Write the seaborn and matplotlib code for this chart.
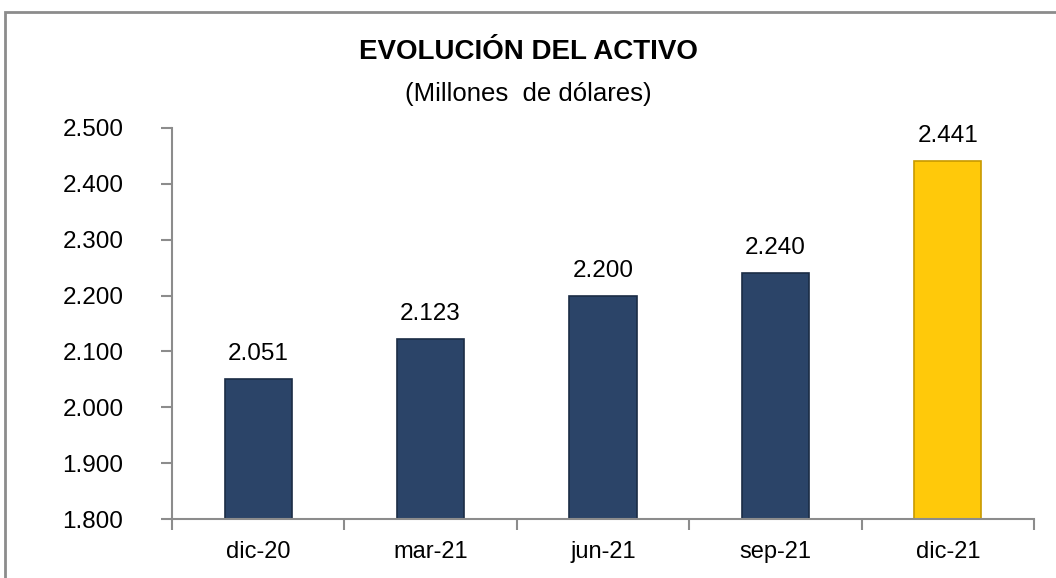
import matplotlib
matplotlib.use("Agg")
import matplotlib.pyplot as plt
import seaborn as sns
import pandas as pd
from matplotlib.patches import Rectangle
from matplotlib.ticker import FixedLocator, FuncFormatter

# Datos
periodos = ["dic-20", "mar-21", "jun-21", "sep-21", "dic-21"]
activo = [2051, 2123, 2200, 2240, 2441]
colores = ["#2B4468", "#2B4468", "#2B4468", "#2B4468", "#FFC90A"]
bordes = ["#1B2C45", "#1B2C45", "#1B2C45", "#1B2C45", "#C89A00"]

def miles(v, pos=None):
    return f"{int(v):,}".replace(",", ".")

sns.set_style("white")
plt.rcParams["font.family"] = ["Liberation Sans", "DejaVu Sans"]

df = pd.DataFrame({"periodo": periodos, "activo": activo})

fig = plt.figure(figsize=(10.56, 5.78), dpi=100)
ax = fig.add_axes([172 / 1056, 1 - 519 / 578, (1034 - 172) / 1056, (519 - 128) / 578])

sns.barplot(data=df, x="periodo", y="activo", hue="periodo", palette=colores,
            width=0.39, legend=False, ax=ax, saturation=1)

for barra, borde in zip(ax.patches, bordes):
    barra.set_edgecolor(borde)
    barra.set_linewidth(1.2)

ax.set_ylim(1800, 2500)
ax.set_xlim(-0.5, len(periodos) - 0.5)
ax.set_yticks(range(1800, 2501, 100))
ax.yaxis.set_major_formatter(FuncFormatter(miles))
ax.set_xlabel("")
ax.set_ylabel("")

# ticks del eje x en los limites de categoria
ax.xaxis.set_minor_locator(FixedLocator([i - 0.5 for i in range(len(periodos) + 1)]))
ax.tick_params(axis="x", which="major", bottom=True, length=0, pad=16, labelsize=17,
               labelcolor="black")
ax.tick_params(axis="x", which="minor", bottom=True, length=8, width=1.5, color="#8C8C8C",
               direction="out")
ax.tick_params(axis="y", which="major", left=True, length=8, width=1.5, color="#8C8C8C",
               direction="out", pad=27, labelsize=17.5, labelcolor="black")

for lado in ["top", "right"]:
    ax.spines[lado].set_visible(False)
for lado in ["left", "bottom"]:
    ax.spines[lado].set_color("#8C8C8C")
    ax.spines[lado].set_linewidth(1.5)

# etiquetas de datos
for i, v in enumerate(activo):
    ax.annotate(miles(v), (i, v), xytext=(0, 10), textcoords="offset points",
                ha="center", va="bottom", fontsize=17.5, color="black")

# titulos
fig.text(0.5, 1 - 52 / 578, "EVOLUCIÓN DEL ACTIVO", ha="center", va="center",
         fontsize=20, fontweight="bold", color="black")
fig.text(0.5, 1 - 94 / 578, "(Millones  de dólares)", ha="center", va="center",
         fontsize=18.5, color="black")

# marco exterior
marco = Rectangle((5 / 1056, -0.1), 1.2, 1 - 12 / 578 + 0.1, transform=fig.transFigure,
                  fill=False, edgecolor="#8C8C8C", linewidth=2, clip_on=False)
fig.patches.append(marco)

fig.savefig("out.png", dpi=100)
